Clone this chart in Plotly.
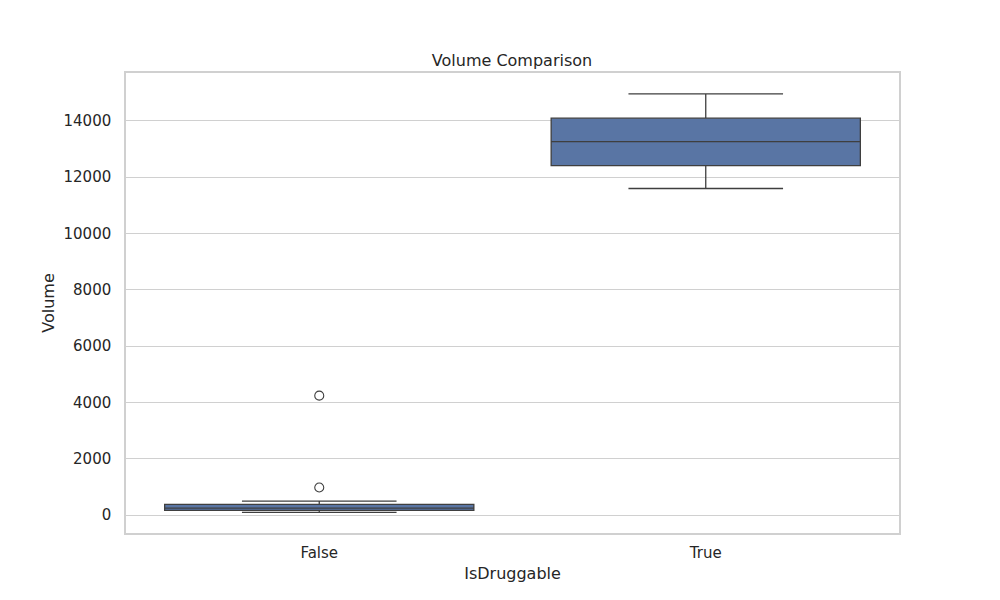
import plotly.graph_objects as go

categories = ["False", "True"]
q1 = [166, 12410]
median = [250, 13260]
q3 = [378, 14090]
lower_whisker = [95, 11595]
upper_whisker = [495, 14955]
outlier_cats = ["False", "False"]
outlier_vals = [980, 4240]

fill = "#5975a4"
edge = "#3f3f3f"
grid = "#d0d0d0"
font = "DejaVu Sans, sans-serif"

fig = go.Figure()
fig.add_trace(go.Box(
    x=categories, q1=q1, median=median, q3=q3,
    lowerfence=lower_whisker, upperfence=upper_whisker,
    fillcolor=fill, line=dict(color=edge, width=1.3),
    width=0.8, whiskerwidth=0.5, boxpoints=False, showlegend=False,
    hoverinfo="y",
))
fig.add_trace(go.Scatter(
    x=outlier_cats, y=outlier_vals, mode="markers",
    marker=dict(symbol="circle-open", size=9, color=edge, line=dict(width=1.1, color=edge)),
    showlegend=False,
))

fig.update_layout(
    width=1000, height=600,
    paper_bgcolor="white", plot_bgcolor="white",
    margin=dict(l=118, r=109, t=65, b=75),
    font=dict(family=font, size=15, color="#262626"),
    title=dict(text="Volume Comparison", x=0.504, xanchor="center", y=0.913, yanchor="middle",
               font=dict(size=16, color="#262626")),
    xaxis=dict(
        type="category", categoryorder="array", categoryarray=categories,
        range=[-0.5, 1.5], showgrid=False, zeroline=False,
        showline=True, linecolor=grid, linewidth=1.5, mirror=True,
        ticks="", ticklen=0, ticklabelstandoff=5,
        title=dict(text="IsDruggable", font=dict(size=16), standoff=7),
    ),
    yaxis=dict(
        range=[-636, 15695], tickmode="array",
        tickvals=[0, 2000, 4000, 6000, 8000, 10000, 12000, 14000],
        ticktext=["0", "2000", "4000", "6000", "8000", "10000", "12000", "14000"],
        showgrid=True, gridcolor=grid, gridwidth=1.2, zeroline=False,
        showline=True, linecolor=grid, linewidth=1.5, mirror=True,
        ticks="", ticklabelstandoff=10,
        title=dict(text="Volume", font=dict(size=16), standoff=5),
    ),
)

fig.write_html("out.html")
